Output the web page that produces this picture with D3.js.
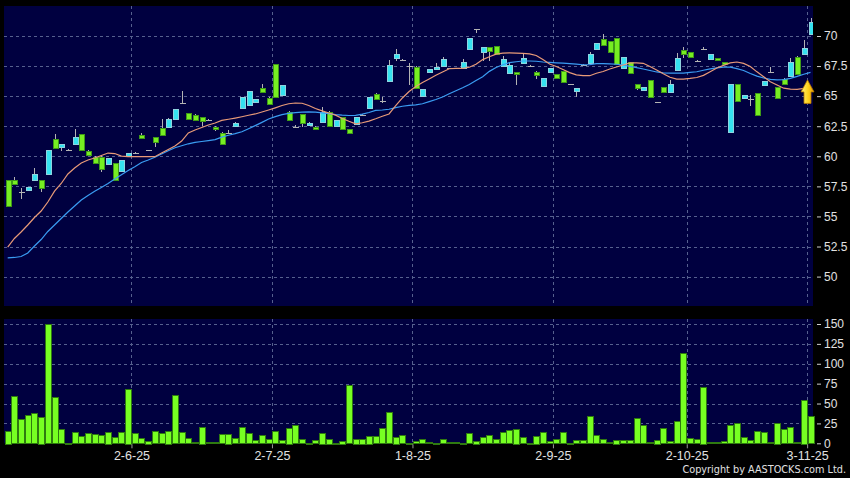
<!DOCTYPE html>
<html><head><meta charset="utf-8">
<script src="https://cdn.jsdelivr.net/npm/d3@7/dist/d3.min.js"></script>
<style>
html,body{margin:0;padding:0;background:#000;}
svg{display:block;}
</style></head>
<body>
<svg id="chart" width="850" height="478"></svg>
<script>
// ---------------- DATA ----------------
const opens = [58.0,58.0,57.0,57.25,58.0,58.03,58.53,61.4,60.75,60.55,60.97,61.83,60.41,59.97,59.97,59.42,59.42,58.8,60.0,60.3,
61.77,60.5,61.58,62.33,62.46,63.08,64.4,63.57,63.46,63.24,63.0,62.46,61.96,61.9,62.58,63.99,64.26,64.46,65.68,64.87,
67.65,65.1,63.7,62.45,63.5,62.65,62.45,62.9,63.7,62.5,63.25,62.24,62.75,63.45,64.0,65.2,64.6,66.3,68.23,67.98,
67.5,67.45,65.0,67.0,67.3,67.5,67.3,67.3,67.37,68.9,70.56,68.7,69.1,69.15,67.45,66.85,67.0,67.75,67.5,67.03,
65.85,67.0,66.8,67.1,66.0,65.4,67.6,67.73,68.97,69.72,69.6,69.8,67.35,67.8,66.0,65.45,66.35,64.5,65.73,65.37,
67.12,68.85,68.65,67.95,68.95,68.06,68.15,67.83,62.0,66.0,64.82,64.8,65.23,66.0,67.03,65.73,66.45,66.7,68.28,68.48,70.22];
const highs = [58.05,58.3,57.4,57.47,59.0,58.05,60.52,61.83,61.05,60.6,62.24,61.85,60.5,60.0,60.05,59.9,59.45,59.7,60.27,60.35,
61.96,60.55,61.62,63.1,63.15,63.9,65.4,63.6,63.5,63.27,63.08,62.5,62.0,62.2,62.85,64.9,65.45,64.74,66.0,64.9,
67.7,65.9,63.75,62.6,63.55,62.85,62.5,64.1,63.75,63.02,63.3,62.26,63.3,63.55,64.9,65.23,64.9,68.0,68.9,68.05,
67.78,67.5,65.6,67.23,67.73,68.28,67.35,67.35,68.06,69.83,70.56,69.1,69.12,69.17,68.3,67.84,67.02,68.55,67.55,67.05,
66.5,67.3,66.82,67.12,66.05,65.65,67.65,68.7,69.45,70.2,69.62,69.82,68.23,67.82,66.02,65.73,66.37,64.55,65.75,66.35,
68.56,69.1,68.67,68.0,69.1,68.48,68.17,67.85,66.0,66.02,65.1,65.1,65.25,66.3,67.4,65.75,66.47,68.2,68.3,69.65,71.47];
const lows = [55.8,57.65,56.45,57.25,58.0,57.05,58.53,60.6,60.46,60.5,60.97,60.5,60.0,59.4,58.72,59.4,57.95,58.8,60.0,60.25,
61.46,60.45,60.8,61.75,62.46,63.08,64.35,63.08,63.02,62.55,62.9,62.13,61.08,61.85,62.58,63.99,64.26,64.46,65.35,64.4,
64.9,65.1,63.0,62.35,62.4,62.65,62.19,62.9,62.5,62.5,62.25,61.91,62.75,63.4,64.0,64.75,64.4,66.28,67.95,67.95,
65.93,65.7,65.0,66.98,67.3,67.5,67.25,67.25,67.37,68.9,70.22,67.9,67.95,68.45,67.45,66.84,65.95,67.73,67.45,66.4,
65.73,67.0,66.48,66.15,65.95,64.95,67.55,67.73,68.97,69.2,68.55,67.65,67.35,66.8,65.5,65.45,64.9,64.4,65.32,65.37,
67.12,68.15,68.23,67.9,68.9,68.06,67.95,67.63,62.0,64.55,64.82,64.18,63.4,66.0,67.0,64.84,66.0,66.7,66.9,68.48,70.22];
const closes = [55.8,57.7,57.0,57.47,58.53,57.35,60.52,60.63,61.02,60.55,61.58,60.52,60.05,59.47,59.0,59.88,58.03,59.69,60.25,60.3,
61.5,60.5,61.13,61.75,63.13,63.9,64.4,63.08,63.02,62.88,63.0,62.3,61.08,61.9,62.8,64.9,65.45,64.74,65.35,64.4,
64.9,65.9,63.0,62.45,62.75,62.8,62.3,63.7,62.5,63.0,62.25,61.91,63.3,63.45,64.9,64.75,64.6,67.6,68.53,67.98,
67.5,65.7,65.6,67.23,67.45,68.12,67.3,67.3,67.86,69.83,70.56,69.1,68.78,68.45,68.05,67.55,66.8,68.2,67.5,66.76,
66.5,67.3,66.5,66.15,66.0,65.65,67.6,68.5,69.45,69.2,68.7,67.65,68.23,66.9,65.65,65.73,64.9,64.5,65.32,66.0,
68.15,68.48,68.23,67.95,68.95,68.48,67.95,67.63,66.0,64.55,65.1,64.8,63.4,66.3,67.03,64.84,66.0,67.87,66.9,68.98,71.2];
const volumes = [15.9,59.3,30.3,35.7,37.9,33.6,149.4,58.1,17.7,0.8,13.9,9.2,12.6,11.7,10.5,14.7,7.6,14.3,68.6,12.6,
6.7,3.3,15.1,12.6,15.9,60.6,14.3,6.7,1.6,21.0,1.6,1.6,11.4,12.1,6.3,20.2,13.0,4.2,10.1,5.4,
15.5,4.2,19.7,22.7,5.4,0.3,4.2,13.4,5.8,0.5,3.3,73.2,5.8,5.8,9.6,9.2,18.9,39.5,8.4,10.5,
0.8,2.9,5.4,1.3,0.3,5.0,1.3,1.3,0.3,12.6,3.3,7.6,10.1,5.0,14.3,16.8,18.5,7.6,0.8,9.6,
14.3,2.5,5.0,14.3,0.5,3.8,3.8,34.3,10.1,5.4,1.6,4.6,3.8,3.8,31.9,22.6,1.6,4.6,19.3,2.5,
28.2,113.6,6.7,5.4,71.1,1.3,1.3,2.5,22.7,25.2,8.0,4.2,15.1,13.9,1.6,26.1,17.7,20.2,1.6,54.7,34.5];
const maShort = [52.46,53.17,53.71,54.29,54.91,55.45,56.2,57.11,57.74,58.53,59.03,59.44,59.69,59.86,60.07,60.27,60.23,60.02,59.98,59.97,
59.97,59.97,59.97,60.27,60.57,60.86,61.27,61.94,62.19,62.39,62.6,62.77,62.98,63.08,63.18,63.29,63.41,63.52,63.68,63.85,
64.03,64.22,64.37,64.43,64.41,64.22,63.97,63.78,63.6,63.42,63.14,62.91,62.7,62.79,62.93,63.12,63.33,63.52,64.22,64.85,
65.39,65.8,66.14,66.43,66.73,67.01,67.28,67.31,67.31,67.4,67.65,68.04,68.28,68.49,68.57,68.6,68.58,68.55,68.52,68.38,
68.05,67.67,67.46,67.21,66.96,66.77,66.7,66.7,66.9,67.05,67.26,67.42,67.59,67.76,67.76,67.73,67.46,67.17,66.86,66.57,
66.42,66.41,66.47,66.55,66.73,67.03,67.34,67.56,67.76,67.84,67.72,67.46,67.02,66.61,66.19,65.93,65.66,65.58,65.57,65.64,65.72];
const maLong = [51.55,51.59,51.67,51.96,52.54,53.08,53.75,54.29,54.83,55.37,55.87,56.37,56.74,57.09,57.41,57.74,58.11,58.46,58.82,59.13,
59.48,59.69,59.92,60.19,60.46,60.71,60.88,61.04,61.15,61.23,61.31,61.39,61.59,61.75,61.88,62.04,62.29,62.55,62.82,63.1,
63.3,63.47,63.57,63.63,63.67,63.7,63.67,63.61,63.55,63.47,63.42,63.39,63.4,63.5,63.64,63.82,63.85,63.91,64.05,64.16,
64.23,64.28,64.37,64.55,64.72,64.93,65.2,65.45,65.7,65.97,66.3,66.61,67.06,67.38,67.61,67.78,67.86,67.92,67.92,67.9,
67.84,67.8,67.77,67.75,67.71,67.66,67.61,67.62,67.7,67.71,67.68,67.65,67.59,67.48,67.37,67.26,67.13,67.01,66.94,66.92,
66.91,66.92,66.97,67.03,67.15,67.26,67.35,67.41,67.41,67.29,67.13,66.88,66.66,66.51,66.4,66.35,66.37,66.48,66.64,66.82,66.97];
const dateLabels = ["2-6-25","2-7-25","1-8-25","2-9-25","2-10-25","3-11-25"];
const dateIndex = [19,40,61,82,102,120];
const priceTicks = [50,52.5,55,57.5,60,62.5,65,67.5,70];
const volumeTicks = [0,25,50,75,100,125,150];
const signal = {index:120, price:66.35};

// ---------------- LAYOUT ----------------
const svg = d3.select("#chart");
const L = 4, R = 813;
const P = {top:6, bottom:306};
const V = {top:319, bottom:443.3};
const C = {
  plot:"#000040", grid:"#56608e", text:"#e2e2e2",
  up:"#35e2f0", upStroke:"#8fd3df", down:"#77ee22", downStroke:"#3f9a18",
  wick:"#b4b4b4", vol:"#77ff22", volStroke:"#2f7a10",
  maS:"#e89a78", maL:"#3a9cf2"
};
const n = closes.length;
const x = d3.scaleLinear().domain([0, n-1]).range([7.7, 810.5]);
const y = d3.scaleLinear().domain([50,70]).range([276.6,36]);
const yv = d3.scaleLinear().domain([0,150]).range([443.3,324]);
const gridX = dateIndex.map(i => x(i-0.5));

svg.append("rect").attr("width",850).attr("height",478).attr("fill","#000");
svg.append("rect").attr("x",L).attr("y",P.top).attr("width",R-L).attr("height",P.bottom-P.top).attr("fill",C.plot);
svg.append("rect").attr("x",L).attr("y",V.top).attr("width",R-L).attr("height",V.bottom-V.top).attr("fill",C.plot);

const defs = svg.append("defs");
defs.append("clipPath").attr("id","cp").append("rect").attr("x",L).attr("y",P.top).attr("width",R-L).attr("height",P.bottom-P.top);
const grad = defs.append("linearGradient").attr("id","arrowGrad").attr("x1",0).attr("x2",1).attr("y1",0).attr("y2",0);
grad.append("stop").attr("offset","0%").attr("stop-color","#fff27a");
grad.append("stop").attr("offset","55%").attr("stop-color","#ffd21c");
grad.append("stop").attr("offset","100%").attr("stop-color","#e39a00");

const grid = svg.append("g").attr("stroke",C.grid).attr("stroke-width",1).attr("stroke-dasharray","3,3").attr("shape-rendering","crispEdges");
priceTicks.forEach(t => grid.append("line").attr("x1",L).attr("x2",R).attr("y1",Math.round(y(t))+0.5).attr("y2",Math.round(y(t))+0.5));
volumeTicks.filter(t=>t>0).forEach(t => grid.append("line").attr("x1",L).attr("x2",R).attr("y1",Math.round(yv(t))+0.5).attr("y2",Math.round(yv(t))+0.5));
gridX.forEach(gx => {
  grid.append("line").attr("x1",Math.round(gx)+0.5).attr("x2",Math.round(gx)+0.5).attr("y1",P.top).attr("y2",P.bottom);
  grid.append("line").attr("x1",Math.round(gx)+0.5).attr("x2",Math.round(gx)+0.5).attr("y1",V.top).attr("y2",V.bottom);
});

// ---------------- CANDLES ----------------
const cg = svg.append("g").attr("clip-path","url(#cp)").attr("shape-rendering","crispEdges");
const idx = d3.range(n);
const cx = i => Math.round(x(i));
cg.selectAll("line.wick").data(idx.filter(i => highs[i] > lows[i])).join("line")
  .attr("x1",i=>cx(i)+0.5).attr("x2",i=>cx(i)+0.5)
  .attr("y1",i=>y(highs[i])).attr("y2",i=>y(lows[i]))
  .attr("stroke",C.wick).attr("stroke-width",1);
cg.selectAll("rect.body").data(idx.filter(i => opens[i] !== closes[i])).join("rect")
  .attr("x",i=>cx(i)-2+0.5).attr("width",5)
  .attr("y",i=>Math.round(y(Math.max(opens[i],closes[i])))+0.5)
  .attr("height",i=>Math.max(1,Math.round(Math.abs(y(opens[i])-y(closes[i])))))
  .attr("fill",i=>closes[i]>opens[i]?C.up:C.down)
  .attr("stroke",i=>closes[i]>opens[i]?C.upStroke:C.downStroke).attr("stroke-width",1);
cg.selectAll("line.doji").data(idx.filter(i => opens[i] === closes[i])).join("line")
  .attr("x1",i=>cx(i)-2.5).attr("x2",i=>cx(i)+3.5)
  .attr("y1",i=>Math.round(y(closes[i]))+0.5).attr("y2",i=>Math.round(y(closes[i]))+0.5)
  .attr("stroke",C.wick).attr("stroke-width",1);

// ---------------- MOVING AVERAGES ----------------
const lineGen = arr => d3.line().x((d,i)=>x(i)).y(d=>y(d)).curve(d3.curveLinear)(arr);
const mg = svg.append("g").attr("clip-path","url(#cp)").attr("fill","none");
mg.append("path").attr("d",lineGen(maLong)).attr("stroke",C.maL).attr("stroke-width",1.2);
mg.append("path").attr("d",lineGen(maShort)).attr("stroke",C.maS).attr("stroke-width",1.2);

// signal arrow
const ax = x(signal.index) - 3, ay = y(signal.price);
svg.append("path")
  .attr("d",`M${ax},${ay} L${ax+6.5},${ay+12} L${ax+3.5},${ay+12} L${ax+3.5},${ay+23.5} L${ax-3.5},${ay+23.5} L${ax-3.5},${ay+12} L${ax-6.5},${ay+12} Z`)
  .attr("fill","url(#arrowGrad)").attr("stroke","#b87800").attr("stroke-width",0.8);

// ---------------- VOLUME ----------------
svg.append("g").attr("shape-rendering","crispEdges").selectAll("rect").data(idx.filter(i=>volumes[i]>0)).join("rect")
  .attr("x",i=>cx(i)-2.5).attr("width",6)
  .attr("y",i=>Math.round(yv(volumes[i]))+0.5)
  .attr("height",i=>Math.max(0.5,Math.round(yv(0)-yv(volumes[i]))-0.5))
  .attr("fill",C.vol).attr("stroke",C.volStroke).attr("stroke-width",1);

// ---------------- AXES ----------------
const axisFont = "'Liberation Sans', Arial, sans-serif";
const ay1 = d3.axisRight(y).tickValues(priceTicks).tickSize(4).tickPadding(3).tickFormat(d3.format("~g"));
const gA = svg.append("g").attr("transform",`translate(${R+4},0)`).call(ay1);
const ay2 = d3.axisRight(yv).tickValues(volumeTicks).tickSize(4).tickPadding(3).tickFormat(d3.format("d"));
const gB = svg.append("g").attr("transform",`translate(${R+4},0)`).call(ay2);
[gA,gB].forEach(g => {
  g.select(".domain").remove();
  g.selectAll(".tick line").attr("stroke","#cfcfcf");
  g.selectAll(".tick text").attr("fill",C.text).attr("font-family",axisFont).attr("font-size",12);
});
const xAxis = d3.axisBottom(x).tickValues(dateIndex.map(i=>i-0.5)).tickSize(4).tickPadding(3)
  .tickFormat((d,k)=>dateLabels[k]);
const gX = svg.append("g").attr("transform",`translate(0,${V.bottom+1})`).call(xAxis);
gX.select(".domain").remove();
gX.selectAll(".tick line").attr("stroke","#9a9a9a");
gX.selectAll(".tick text").attr("fill",C.text).attr("font-family",axisFont).attr("font-size",12.5);

svg.append("text").attr("x",846).attr("y",473).attr("text-anchor","end")
  .attr("fill",C.text).attr("font-family","'DejaVu Sans Condensed','Liberation Sans',sans-serif").attr("font-size",10.8)
  .text("Copyright by AASTOCKS.com Ltd.");
</script>
</body></html>
